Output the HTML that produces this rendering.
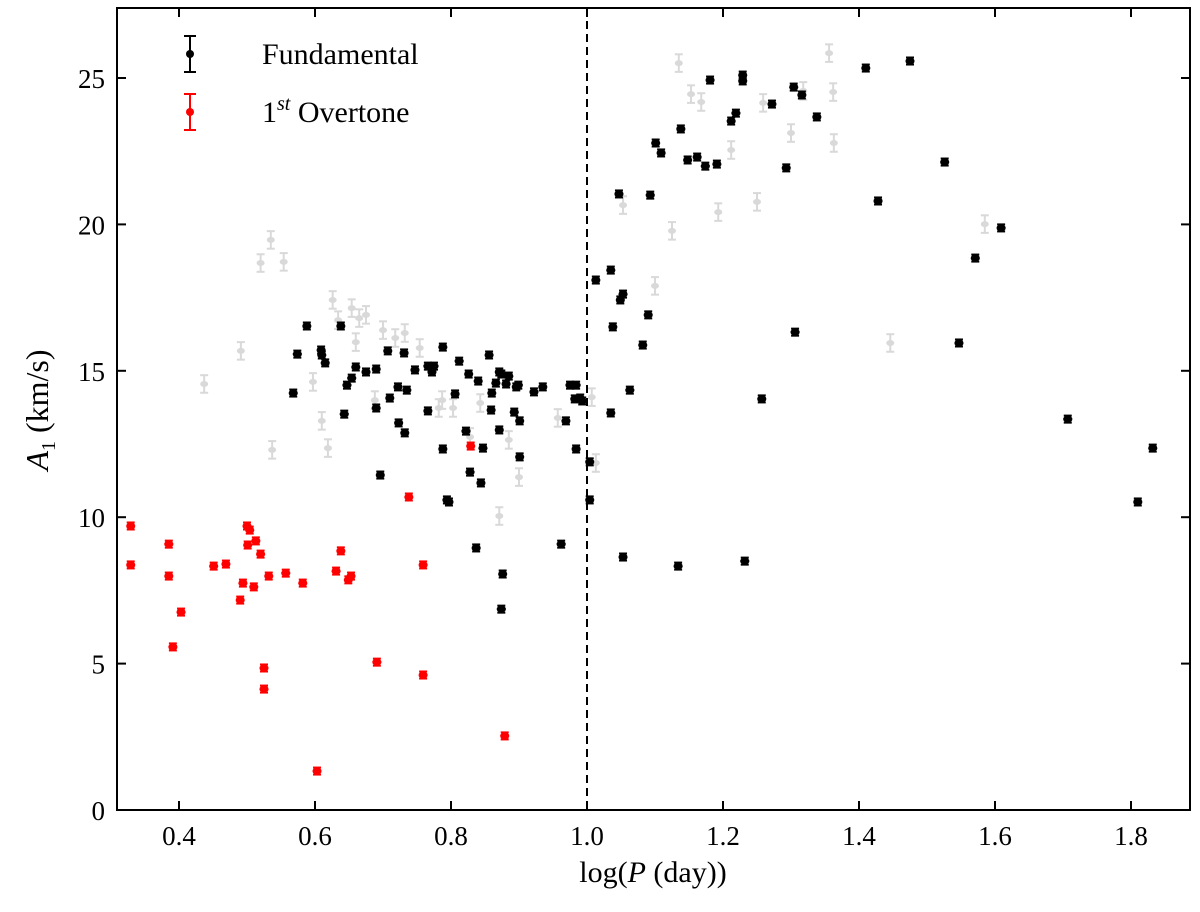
<!DOCTYPE html>
<html><head><meta charset="utf-8"><style>
html,body{margin:0;padding:0;background:#fff;}
svg{display:block;font-family:"Liberation Serif",serif;}
</style></head><body>
<svg id="chart" width="1200" height="912"></svg>
<script>
const xTicks=[0.4,0.6,0.8,1.0,1.2,1.4,1.6,1.8];
const yTicks=[0,5,10,15,20,25];
const redX=[0.329,0.329,0.385,0.385,0.391,0.403,0.451,0.469,0.49,0.494,0.50,0.501,0.504,0.51,0.513,0.52,0.525,0.525,0.532,0.557,0.582,0.603,0.631,0.638,0.649,0.653,0.691,0.738,0.759,0.759,0.829,0.879];
const redY=[9.70,8.37,9.08,7.99,5.57,6.76,8.33,8.40,7.17,7.75,9.70,9.05,9.56,7.62,9.19,8.74,4.85,4.13,7.99,8.09,7.75,1.33,8.16,8.85,7.86,7.99,5.05,10.69,8.37,4.61,12.43,2.53];
const blackX=[0.568,0.574,0.588,0.609,0.610,0.615,0.638,0.643,0.647,0.654,0.660,0.675,0.690,0.696,0.69,0.707,0.71,0.722,0.723,0.731,0.732,0.735,0.747,0.766,0.766,0.772,0.775,0.788,0.788,0.794,0.797,0.806,0.812,0.822,0.826,0.828,0.837,0.84,0.844,0.847,0.856,0.859,0.860,0.866,0.871,0.871,0.874,0.876,0.874,0.881,0.885,0.893,0.896,0.899,0.901,0.901,0.922,0.935,0.962,0.969,0.975,0.984,0.982,0.984,0.99,0.993,1.004,1.004,1.013,1.035,1.035,1.038,1.047,1.049,1.053,1.053,1.063,1.082,1.09,1.093,1.101,1.109,1.134,1.138,1.148,1.162,1.174,1.181,1.191,1.212,1.219,1.229,1.229,1.232,1.257,1.272,1.293,1.304,1.306,1.316,1.338,1.428,1.41,1.475,1.526,1.547,1.571,1.609,1.707,1.81,1.832];
const blackY=[14.24,15.57,16.53,15.71,15.54,15.27,16.53,13.52,14.51,14.75,15.13,14.96,13.73,11.44,15.06,15.68,14.07,14.45,13.22,15.61,12.88,14.34,15.03,13.63,15.16,14.96,15.16,15.81,12.33,10.59,10.52,14.21,15.33,12.94,14.89,11.54,8.95,14.65,11.17,12.36,15.54,13.66,14.24,14.58,14.96,12.98,14.89,8.06,6.86,14.55,14.82,13.59,14.45,14.51,13.29,12.06,14.28,14.45,9.08,13.29,14.51,12.33,14.04,14.51,14.07,13.97,11.89,10.59,18.10,18.44,13.56,16.50,21.04,17.42,8.64,17.62,14.34,15.88,16.91,21.00,22.78,22.44,8.33,23.26,22.20,22.30,21.99,24.93,22.06,23.53,23.80,24.90,25.10,8.50,14.04,24.11,21.93,24.69,16.32,24.42,23.67,20.80,25.34,25.58,22.13,15.95,18.85,19.88,13.35,10.52,12.36];
const grayX=[0.437,0.491,0.52,0.535,0.554,0.537,0.597,0.61,0.619,0.626,0.634,0.654,0.66,0.665,0.675,0.688,0.70,0.718,0.732,0.754,0.782,0.787,0.803,0.828,0.843,0.871,0.885,0.90,0.957,1.007,1.013,1.053,1.10,1.125,1.135,1.153,1.168,1.193,1.212,1.25,1.259,1.30,1.318,1.356,1.362,1.363,1.446,1.585];
const grayY=[14.55,15.68,18.68,19.47,18.72,12.30,14.62,13.29,12.36,17.42,16.73,17.14,15.98,16.80,16.91,14.00,16.39,16.12,16.29,15.78,13.73,14.00,13.73,12.74,13.90,10.04,12.64,11.37,13.39,14.10,11.85,20.66,17.90,19.78,25.51,24.45,24.18,20.42,22.54,20.77,24.15,23.12,24.56,25.85,24.52,22.78,15.95,20.01];

const L=117,R=1190,T=8,B=810;
const X=v=>179+(v-0.4)*680;
const Y=v=>810-v*29.28;
const NS="http://www.w3.org/2000/svg";
const svg=document.getElementById('chart');
function mk(tag,attrs,parent){const e=document.createElementNS(NS,tag);for(const k in attrs)e.setAttribute(k,attrs[k]);(parent||svg).appendChild(e);return e;}

function drawPt(g,x,y,col,err,r){
  const px=X(x),py=Y(y),e=err*29.28;
  mk('line',{x1:px,y1:py-e,x2:px,y2:py+e,stroke:col,'stroke-width':2},g);
  mk('line',{x1:px-4,y1:py-e,x2:px+4,y2:py-e,stroke:col,'stroke-width':2},g);
  mk('line',{x1:px-4,y1:py+e,x2:px+4,y2:py+e,stroke:col,'stroke-width':2},g);
  return mk('ellipse',{cx:px,cy:py,rx:r+1,ry:r,fill:col},g);
}
const gg=mk('g',{opacity:0.2});


grayX.forEach((x,i)=>{const c=drawPt(gg,x,grayY[i],'#444',0.3,3);

});

const dl=mk('line',{x1:X(1),y1:T,x2:X(1),y2:B,stroke:'#000','stroke-width':2,'stroke-dasharray':'8,5'});



const gb=mk('g',{});


blackX.forEach((x,i)=>{const c=drawPt(gb,x,blackY[i],'#000',0.12,3.6);

});
const gr=mk('g',{});


redX.forEach((x,i)=>{const c=drawPt(gr,x,redY[i],'#f00',0.12,3.6);

});

const fr=mk('rect',{x:L,y:T,width:R-L,height:B-T,fill:'none',stroke:'#000','stroke-width':2});



xTicks.forEach(v=>{const px=X(v);
  mk('line',{x1:px,y1:B,x2:px,y2:B-9,stroke:'#000','stroke-width':2});
  mk('line',{x1:px,y1:T,x2:px,y2:T+9,stroke:'#000','stroke-width':2});
  const t=mk('text',{x:px,y:B+35,'font-size':27,'text-anchor':'middle'});t.textContent=v.toFixed(1);
  
  
});
yTicks.forEach(v=>{const py=Y(v);
  mk('line',{x1:L,y1:py,x2:L+9,y2:py,stroke:'#000','stroke-width':2});
  mk('line',{x1:R,y1:py,x2:R-9,y2:py,stroke:'#000','stroke-width':2});
  const t=mk('text',{x:L-12,y:py+10,'font-size':27,'text-anchor':'end'});t.textContent=v;
  
  
});

const xt=mk('text',{x:653,y:882,'font-size':30,'text-anchor':'middle'});
xt.innerHTML='log(<tspan font-style="italic">P</tspan> (day))';


const yt=mk('text',{x:0,y:0,'font-size':32,'text-anchor':'middle',transform:'translate(48,410) rotate(-90)'});
yt.innerHTML='<tspan font-style="italic">A</tspan><tspan font-size="20" dy="7">1</tspan><tspan dy="-7"> (km/s)</tspan>';



const lg=mk('g',{});


function legEntry(y,col,label,name){
  const g=mk('g',{},lg);
  
  
  mk('line',{x1:190,y1:y-18,x2:190,y2:y+18,stroke:col,'stroke-width':2},g);
  mk('line',{x1:184,y1:y-18,x2:196,y2:y-18,stroke:col,'stroke-width':2},g);
  mk('line',{x1:184,y1:y+18,x2:196,y2:y+18,stroke:col,'stroke-width':2},g);
  mk('circle',{cx:190,cy:y,r:4,fill:col},g);
  const t=mk('text',{x:262,y:y+10,'font-size':30},g);t.innerHTML=label;
}
legEntry(54,'#000','Fundamental','legend-fundamental');
legEntry(112,'#f00','1<tspan font-size="20" dy="-12" font-style="italic">st</tspan><tspan dy="12"> Overtone</tspan>','legend-overtone');
</script>
</body></html>
